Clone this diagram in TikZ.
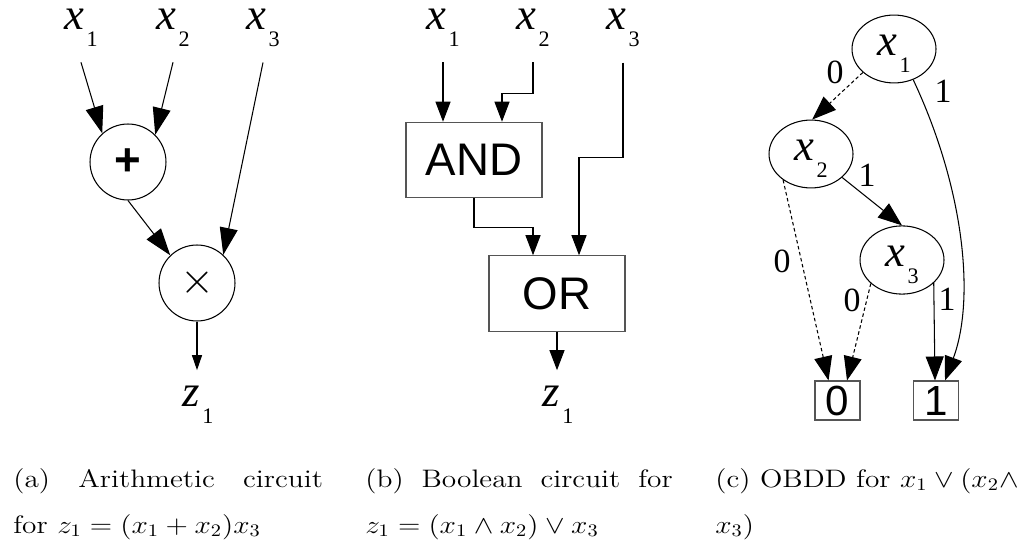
\documentclass[tikz,border=0pt]{standalone}
\usepackage{fontspec}
\usepackage{graphicx}
\usepackage{tikz}
\usetikzlibrary{arrows.meta, positioning, calc, shapes.geometric}
\newfontfamily\labfont{Liberation Serif}
\newfontfamily\gatefont{Liberation Sans}
\definecolor{mydark}{RGB}{0,0,0}
\definecolor{mgframe}{RGB}{85,85,85}
\newcommand{\vlab}[2]{{\labfont\fontsize{25.4}{26}\selectfont\itshape #1}\kern0.05cm\raisebox{-0.34cm}{\labfont\fontsize{12.6}{13}\selectfont #2}}
\newcommand{\capline}[1]{\scalebox{1.16}[1]{\fontsize{14.4}{17}\selectfont #1}}
\tikzset{
  varlab/.style={inner xsep=0pt, inner ysep=0pt, anchor=base},
  opnode/.style={circle, draw=mydark, minimum size=1.52cm, inner sep=0pt,
    line width=0.6pt},
  gate/.style={rectangle, draw=mgframe, minimum width=2.72cm, minimum height=1.51cm,
    inner sep=0pt, font=\gatefont\fontsize{26}{26}\selectfont, line width=0.6pt},
  bddnode/.style={ellipse, draw=mydark, minimum width=1.68cm, minimum height=1.2cm,
    inner sep=0pt, line width=0.6pt},
  leaf/.style={rectangle, draw=mgframe, minimum width=0.9cm, minimum height=0.78cm,
    inner sep=0pt, font=\gatefont\fontsize{24}{24}\selectfont, line width=0.6pt},
  elab/.style={font=\labfont\fontsize{19.3}{20}\selectfont, inner sep=0pt},
  capnode/.style={anchor=base west, inner sep=0pt},
  arrow/.style={-{Triangle[length=0.54cm, width=0.36cm]}, line width=0.6pt, color=mydark},
  zarrow/.style={-{Triangle[length=0.3cm, width=0.2cm]}, line width=0.6pt, color=mydark},
  barrow/.style={-{Triangle[length=0.4cm, width=0.3cm]}, line width=0.6pt, color=mydark},
  bddarrow/.style={-{Triangle[length=0.48cm, width=0.36cm]}, line width=0.6pt, color=mydark},
  zeroedge/.style={dash pattern=on 2pt off 1.5pt}
}
\begin{document}
\begin{tikzpicture}[x=0.02cm, y=-0.02cm]
  \useasboundingbox (0,0) rectangle (1026,550);

  % Arithmetic circuit
  \node[varlab] (ax1) at (81,30) {\vlab{x}{1}};
  \node[varlab] (ax2) at (173,30) {\vlab{x}{2}};
  \node[varlab] (ax3) at (263,30) {\vlab{x}{3}};
  \node[opnode] (plus) at (128,162) {\gatefont\bfseries\fontsize{26}{26}\selectfont +};
  \node[opnode] (times) at (197,283) {\fontsize{28}{28}\selectfont$\times$};
  \node[varlab] (za) at (198,406) {\vlab{z}{1}};
  \draw[arrow] ([yshift=-0.3cm]ax1.south) -- (plus.132);
  \draw[arrow] ([yshift=-0.3cm]ax2.south) -- (plus.45);
  \draw[arrow] ([yshift=-0.3cm]ax3.south) -- (times.47);
  \draw[arrow] (plus.south) -- (times.134);
  \draw[zarrow] (times.south) -- ([yshift=0.3cm]times.south |- za.north);

  % Boolean circuit
  \node[varlab] (bx1) at (443,30) {\vlab{x}{1}};
  \node[varlab] (bx2) at (533,30) {\vlab{x}{2}};
  \node[varlab] (bx3) at (623,30) {\vlab{x}{3}};
  \node[gate] (and) at (474,160) {AND};
  \node[gate] (or) at (557,293.5) {OR};
  \node[varlab] (zb) at (558,406) {\vlab{z}{1}};
  \draw[barrow] ([yshift=-0.3cm]bx1.south) -- (bx1.south |- and.north);
  \draw[barrow] ([yshift=-0.3cm]bx2.south) -- ++(0,31) -| ([xshift=0.56cm]and.north);
  \draw[barrow] (and.south) -- ++(0,29) -| ([xshift=-0.48cm]or.north);
  \draw[barrow] ([yshift=-0.3cm]bx3.south) -- ++(0,95) -| ([xshift=0.44cm]or.north);
  \draw[barrow] (or.south) -- ([yshift=0.3cm]or.south |- zb.north);

  % OBDD
  \node[bddnode] (n1) at (894,49) {\rule{0pt}{0.62cm}\vlab{x}{1}};
  \node[bddnode] (n2) at (811,154) {\rule{0pt}{0.62cm}\vlab{x}{2}};
  \node[bddnode] (n3) at (902,260) {\rule{0pt}{0.62cm}\vlab{x}{3}};
  \node[leaf] (zero) at (837.5,400.5) {0};
  \node[leaf] (one) at (936,400.5) {1};
  \draw[bddarrow, zeroedge] (n1.217) -- (n2.88);
  \draw[bddarrow] (n1.302) .. controls (965,190) and (975,300) .. ([xshift=0.18cm]one.north);
  \draw[bddarrow] (n2.323) -- (n3.north);
  \draw[bddarrow, zeroedge] (n2.223) -- ([xshift=-0.18cm]zero.north);
  \draw[bddarrow, zeroedge] (n3.217) -- ([xshift=0.19cm]zero.north);
  \draw[bddarrow] (n3.324) -- ([xshift=-0.02cm]one.north);
  \node[elab] (e12) at (835,72) {0};
  \node[elab] (e1t) at (943,91) {1};
  \node[elab] (e23) at (867,175) {1};
  \node[elab] (e2f) at (782,261) {0};
  \node[elab] (e3f) at (852,300) {0};
  \node[elab] (e3t) at (947,299) {1};

  % Captions
  \node[capnode] (capa1) at (13,487) {\capline{\makebox[5.34cm][s]{(a) Arithmetic circuit}}};
  \node[capnode] (capa2) at (13,533) {\capline{for $z_1=(x_1+x_2)x_3$}};
  \node[capnode] (capb1) at (365,487) {\capline{\makebox[5.3cm][s]{(b) Boolean circuit for}}};
  \node[capnode] (capb2) at (365,533) {\capline{$z_1=(x_1\wedge x_2)\vee x_3$}};
  \node[capnode] (capc1) at (715,487) {\capline{(c) OBDD for $x_1\vee(x_2\wedge$}};
  \node[capnode] (capc2) at (715,533) {\capline{$x_3)$}};
\end{tikzpicture}
\end{document}
